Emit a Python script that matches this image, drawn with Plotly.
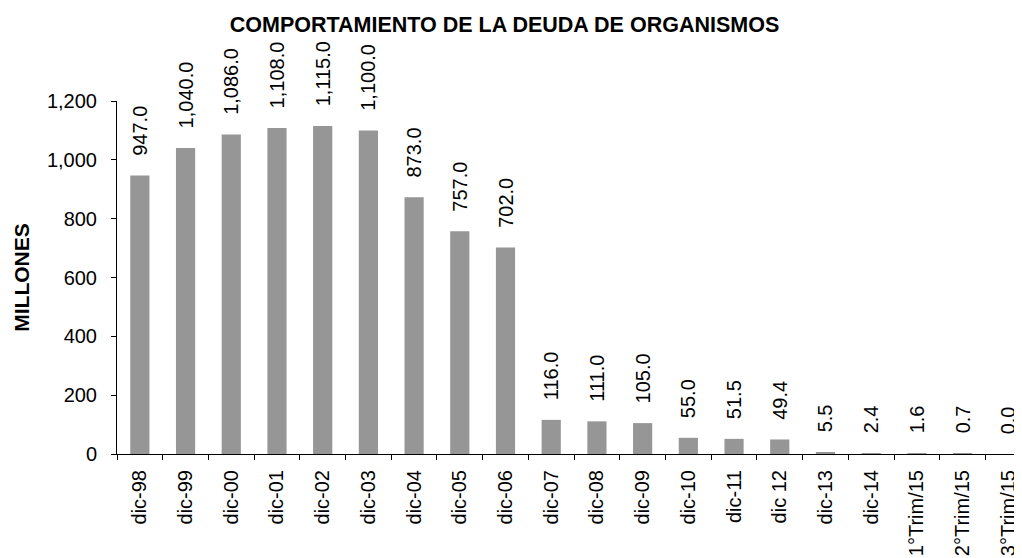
import plotly.graph_objects as go

categories = ["dic-98", "dic-99", "dic-00", "dic-01", "dic-02", "dic-03", "dic-04",
              "dic-05", "dic-06", "dic-07", "dic-08", "dic-09", "dic-10", "dic-11",
              "dic 12", "dic-13", "dic-14", "1°Trim/15", "2°Trim/15", "3°Trim/15"]
values = [947.0, 1040.0, 1086.0, 1108.0, 1115.0, 1100.0, 873.0, 757.0, 702.0,
          116.0, 111.0, 105.0, 55.0, 51.5, 49.4, 5.5, 2.4, 1.6, 0.7, 0.0]
y_ticks = [0, 200, 400, 600, 800, 1000, 1200]

FONT = "Liberation Sans, Arial, sans-serif"

# page has an 8px body margin; figure sized to fit the 1022x558 window
W, H = 1014, 550

fig = go.Figure(go.Bar(
    x=categories, y=values,
    marker=dict(color="#969696", line=dict(width=0)),
    width=0.42,
    texttemplate="\u00a0\u00a0\u00a0%{y:,.1f}",
    textposition="outside",
    textangle=-90,
    constraintext="none",
    cliponaxis=False,
    textfont=dict(family=FONT, size=20, color="black"),
))

fig.update_layout(
    width=W, height=H,
    margin=dict(l=109, r=0, t=93, b=104, autoexpand=False),
    paper_bgcolor="white", plot_bgcolor="white",
    showlegend=False,
    title=dict(text="<b>COMPORTAMIENTO DE LA DEUDA DE ORGANISMOS</b>",
               x=496.5/W, xref="container", xanchor="center",
               y=1 - 16/H, yref="container", yanchor="middle",
               font=dict(family=FONT, size=21.5, color="black")),
    font=dict(family=FONT, color="black"),
)

fig.update_xaxes(
    type="category", range=[-0.5, 19.3], automargin=False,
    showline=True, linecolor="black", linewidth=1,
    ticks="outside", ticklen=5, tickcolor="black", tickson="boundaries",
    tickangle=-90, ticklabelstandoff=7,
    tickfont=dict(family=FONT, size=20, color="black"),
    showgrid=False, zeroline=False,
)
fig.update_yaxes(
    range=[0, 1200], tickvals=y_ticks, tickformat=",", automargin=False,
    showline=True, linecolor="black", linewidth=1,
    ticks="outside", ticklen=5, tickcolor="black",
    ticklabelstandoff=10,
    tickfont=dict(family=FONT, size=20, color="black"),
    showgrid=False, zeroline=False,
    title=dict(text="<b>MILLONES</b>", standoff=11,
               font=dict(family=FONT, size=21, color="black")),
)

fig.write_html("out.html")
